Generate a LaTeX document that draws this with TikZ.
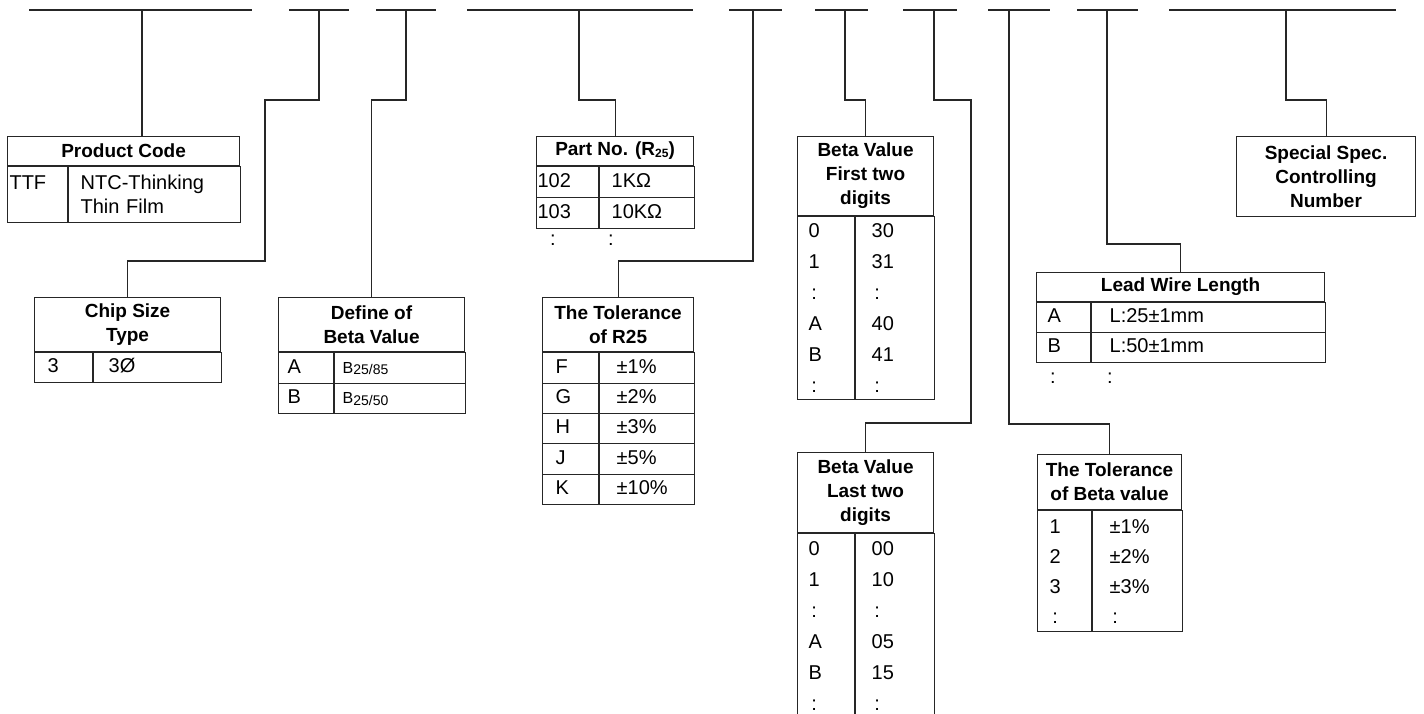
\documentclass[tikz,border=0pt]{standalone}
\usepackage{fontspec}
\setmainfont{Liberation Sans}
\usepackage{tikz}
\usetikzlibrary{calc,positioning}

\newcommand{\txtfont}{\fontsize{20}{24}\selectfont}
\newcommand{\rowfont}{\fontsize{20}{31}\selectfont}
\newcommand{\hdfont}{\fontsize{19}{24}\selectfont\bfseries}
\newcommand{\lowidx}[1]{\raisebox{-1.5pt}{\fontsize{12}{12}\selectfont #1}}
\newcommand{\betaidx}[1]{{\fontsize{16}{16}\selectfont B}\raisebox{-1.5pt}{\fontsize{14}{14}\selectfont 25/#1}}
\newcommand{\dd}{\makebox[11pt]{:}}

\tikzset{
  tbox/.style={draw=black!85, line width=1.1pt, inner sep=0pt, anchor=north west},
  hdr/.style={tbox, align=center, font=\hdfont},
  tcell/.style 2 args={tbox, text width=#1, inner xsep=#2, align=left, font=\txtfont,
    text height=15pt, text depth=4.5pt},
  tcol/.style 2 args={tbox, text width=#1, inner xsep=#2, align=left, font=\txtfont},
  codebar/.style={draw=black!85, line width=1.5pt},
  lead/.style={draw=black!85, line width=1.1pt}
}

\begin{document}
\begin{tikzpicture}[x=1pt,y=-1pt]
  \useasboundingbox (0,0) rectangle (1424,713);
  % segments of the part number
  \foreach \a/\b/\t [count=\i] in {29/252/142,289/349/319,376/436/406,467/693/579,729/782/753,
      815/868/845,903/957/934,988/1050/1009,1077/1138/1107,1169/1396/1286}{
    \draw[codebar] (\a,10) -- (\b,10);
    \coordinate (t\i) at (\t,10);
  }

  % product code
  \node[hdr,minimum width=232,minimum height=29] (pc) at (7,136) {Product Code};
  \node[tcol={56}{2},minimum height=56] (pc-k) at (pc.south west) {TTF\\\mbox{}};
  \node[tcol={148}{12},minimum height=56] (pc-v) at (pc-k.north east) {NTC-Thinking\\Thin Film};

  % chip size
  \node[hdr,minimum width=186,minimum height=54] (cs) at (34,297) {Chip Size\\Type};
  \node[tcell={32}{13},minimum height=30] (cs-k) at (cs.south west) {3};
  \node[tcell={98}{15},minimum height=30] (cs-v) at (cs-k.north east) {3Ø};

  % beta definition
  \node[hdr,minimum width=186,minimum height=54] (df) at (278,297) {Define of\\Beta Value};
  \foreach \k/\v [count=\i from 0] in {A/85,B/50}{
    \node[tcell={37}{9},minimum height=30.5] (df-k\i) at ($(df.south west)+(0,30.5*\i)$) {\k};
    \node[tcell={115}{8},minimum height=30.5] (df-v\i) at (df-k\i.north east) {\betaidx{\v}};
  }

  % part no.
  \node[hdr,minimum width=157,minimum height=29] (pn) at (536,136) {Part No. (R\lowidx{25})};
  \foreach \k/\v [count=\i from 0] in {102/1KΩ,103/10KΩ}{
    \node[tcell={60}{1},minimum height=31] (pn-k\i) at ($(pn.south west)+(0,31*\i)$) {\k};
    \node[tcell={71}{12},minimum height=31] (pn-v\i) at (pn-k\i.north east) {\v};
  }
  \node[font=\txtfont] (pn-d1) at (553,240) {:};
  \node[font=\txtfont] (pn-d2) at (611,240) {:};

  % tolerance of R25
  \node[hdr,minimum width=151,minimum height=54] (tr) at (542,297) {The Tolerance\\of R25};
  \foreach \k/\v [count=\i from 0] in {F/1,G/2,H/3,J/5,K/10}{
    \node[tcell={30}{13},minimum height=30.4] (tr-k\i) at ($(tr.south west)+(0,30.4*\i)$) {\k};
    \node[tcell={61}{17},minimum height=30.4] (tr-v\i) at (tr-k\i.north east) {±\v\%};
  }

  % beta value, first and last two digits
  \node[hdr,minimum width=136,minimum height=79] (bf) at (797,136) {Beta Value\\First two\\digits};
  \node[tcol={35}{11},minimum height=183,font=\rowfont] (bf-k) at (bf.south west) {0\\1\\\dd\\A\\B\\\dd};
  \node[tcol={47}{16},minimum height=183,font=\rowfont] (bf-v) at (bf-k.north east) {30\\31\\\dd\\40\\41\\\dd};

  \node[hdr,minimum width=136,minimum height=80] (bl) at (797,452) {Beta Value\\Last two\\digits};
  \node[tcol={35}{11},minimum height=185,font=\rowfont] (bl-k) at (bl.south west) {0\\1\\\dd\\A\\B\\\dd};
  \node[tcol={47}{16},minimum height=185,font=\rowfont] (bl-v) at (bl-k.north east) {00\\10\\\dd\\05\\15\\\dd};

  % tolerance of beta
  \node[hdr,minimum width=144,minimum height=55] (tb) at (1037,454) {The Tolerance\\of Beta value};
  \node[tcol={30}{12},minimum height=121,font=\fontsize{20}{30}\selectfont] (tb-k) at (tb.south west) {1\\2\\3\\\dd};
  \node[tcol={56}{17},minimum height=121,font=\fontsize{20}{30}\selectfont] (tb-v) at (tb-k.north east) {±1\%\\±2\%\\±3\%\\\dd};

  % lead wire
  \node[hdr,minimum width=288,minimum height=29] (lw) at (1036,272) {Lead Wire Length};
  \foreach \k/\v [count=\i from 0] in {A/25,B/50}{
    \node[tcell={32}{11},minimum height=30] (lw-k\i) at ($(lw.south west)+(0,30*\i)$) {\k};
    \node[tcell={198}{18},minimum height=30] (lw-v\i) at (lw-k\i.north east) {L:\v±1mm};
  }
  \node[font=\txtfont] (lw-d1) at (1053,378) {:};
  \node[font=\txtfont] (lw-d2) at (1110,378) {:};

  % special spec.
  \node[hdr,minimum width=179,minimum height=80] (sp) at (1236,136) {Special Spec.\\Controlling\\Number};

  % leads from the segments down to the tables
  \draw[lead] (t1) -- (t1 |- pc.north);
  \draw[lead] (t2) |- ++(-54,90) |- ([yshift=36]cs.north) -- (cs.north);
  \draw[lead] (t3) |- ([yshift=197]df.north) -- (df.north);
  \draw[lead] (t4) |- ([yshift=36]pn.north) -- (pn.north);
  \draw[lead] (t5) |- ([yshift=36]tr.north) -- (tr.north);
  \draw[lead] (t6) |- ([yshift=36]bf.north) -- (bf.north);
  \draw[lead] (t7) |- ++(37,90) |- ([yshift=29]bl.north) -- (bl.north);
  \draw[lead] (t8) |- ([yshift=30]tb.north) -- (tb.north);
  \draw[lead] (t9) |- ([yshift=28]lw.north) -- (lw.north);
  \draw[lead] (t10) |- ([yshift=36]sp.north) -- (sp.north);
\end{tikzpicture}
\end{document}
